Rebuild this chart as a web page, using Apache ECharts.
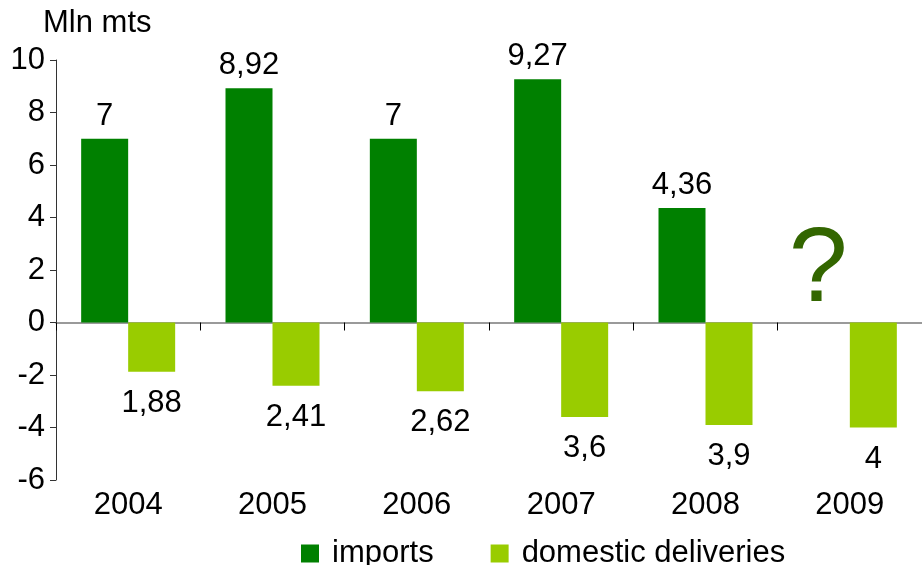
<!DOCTYPE html>
<html>
<head>
<meta charset="utf-8">
<script src="https://cdn.jsdelivr.net/npm/echarts@6/dist/echarts.min.js"></script>
<style>
html,body{margin:0;padding:0;background:#fff;}
#chart{width:922px;height:565px;}
</style>
</head>
<body>
<div id="chart"></div>
<script>
var categories = ['2004', '2005', '2006', '2007', '2008', '2009'];
var imports = [7, 8.92, 7, 9.27, 4.36, null];
var domestic = [-1.88, -2.41, -2.62, -3.6, -3.9, -4];
var seriesNames = ['imports', 'domestic deliveries'];
var unknownMark = { category: '2009', value: 1.95, text: '?' };

var FONT = '"Liberation Sans", Arial, sans-serif';
var FS = 31;
function fmt(v) {
  return String(Math.abs(v)).replace('.', ',');
}

var chart = echarts.init(document.getElementById('chart'));
chart.setOption({
  animation: false,
  textStyle: { fontFamily: FONT },
  title: {
    text: 'Mln mts',
    left: 38,
    top: 3,
    textStyle: { fontFamily: FONT, fontSize: FS, fontWeight: 'normal', color: '#000' }
  },
  legend: {
    data: seriesNames,
    left: 296,
    top: 533,
    icon: 'rect',
    itemWidth: 18,
    itemHeight: 18,
    itemGap: 57,
    textStyle: { fontFamily: FONT, fontSize: FS, color: '#000', padding: [0, 0, 0, 8] }
  },
  grid: { left: 56, top: 60, width: 872, height: 420, containLabel: false },
  xAxis: [
    {
      type: 'category',
      data: categories,
      position: 'bottom',
      axisLine: { show: true, onZero: true, lineStyle: { color: '#7a7a7a', width: 1.5 } },
      axisTick: { show: true, interval: 0, alignWithLabel: false, length: 8, lineStyle: { color: '#000', width: 1 } },
      axisLabel: { show: false },
      splitLine: { show: false }
    },
    {
      type: 'category',
      data: categories,
      position: 'bottom',
      axisLine: { show: false, onZero: false },
      axisTick: { show: false },
      axisLabel: { show: true, interval: 0, margin: 10, fontFamily: FONT, fontSize: FS, color: '#000' },
      splitLine: { show: false }
    }
  ],
  yAxis: {
    type: 'value',
    min: -6,
    max: 10,
    interval: 2,
    axisLine: { show: true, onZero: false, lineStyle: { color: '#333', width: 1 } },
    axisTick: { show: true, length: 6, lineStyle: { color: '#333' } },
    axisLabel: { margin: 11, fontFamily: FONT, fontSize: FS, color: '#000' },
    splitLine: { show: false }
  },
  series: [
    {
      name: seriesNames[0],
      type: 'bar',
      data: imports,
      barWidth: 47,
      barGap: '0%',
      itemStyle: { color: '#008000' },
      label: {
        show: true,
        position: 'top',
        distance: 7,
        fontFamily: FONT,
        fontSize: FS,
        color: '#000',
        formatter: function (p) { return fmt(p.value); }
      },
      markPoint: {
        symbol: 'circle',
        symbolSize: 0,
        data: [{ coord: [unknownMark.category, unknownMark.value] }],
        label: {
          show: true,
          formatter: unknownMark.text,
          position: 'inside',
          offset: [-8, 0],
          fontFamily: FONT,
          fontSize: 106,
          color: '#336600'
        }
      }
    },
    {
      name: seriesNames[1],
      type: 'bar',
      data: domestic,
      barWidth: 47,
      barGap: '0%',
      itemStyle: { color: '#99cc00' },
      label: {
        show: true,
        position: 'bottom',
        distance: 16,
        fontFamily: FONT,
        fontSize: FS,
        color: '#000',
        formatter: function (p) { return fmt(p.value); }
      }
    }
  ]
});
</script>
</body>
</html>
